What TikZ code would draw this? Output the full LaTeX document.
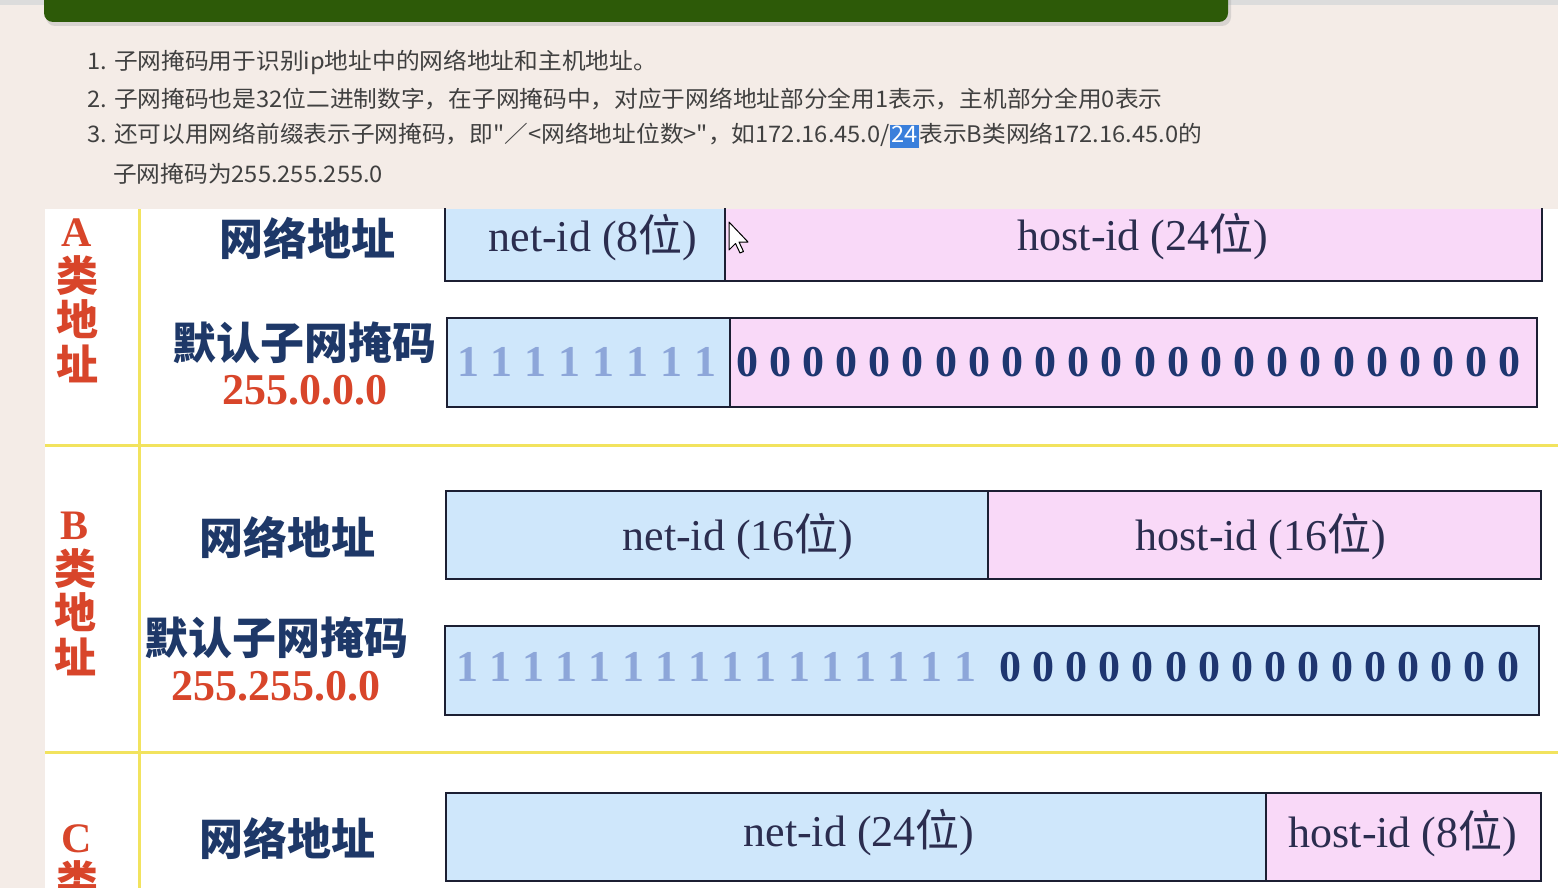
\documentclass[tikz,border=0pt]{standalone}
\usepackage{fontspec}
\setmainfont{Liberation Serif}
\newfontfamily\cjk{Noto Sans CJK SC}
\newfontfamily\listcjk{Noto Sans CJK SC}[FakeStretch=1.04]
\newcommand\wei{{\cjk 位}}
\definecolor{pagebg}{HTML}{F4ECE7}
\definecolor{barg}{HTML}{2D5A08}
\definecolor{topstrip}{HTML}{DCDCDC}
\definecolor{listtxt}{HTML}{404040}
\definecolor{hl}{HTML}{3A7FDB}
\definecolor{ylw}{HTML}{F2E35E}
\definecolor{boxblue}{HTML}{CFE7FB}
\definecolor{boxpink}{HTML}{F9D9F8}
\definecolor{boxline}{HTML}{1C1F33}
\definecolor{navy}{HTML}{1E3868}
\definecolor{redlbl}{HTML}{D8452A}
\definecolor{ones}{HTML}{8DA6D9}
\definecolor{zeros}{HTML}{1E3670}
\definecolor{boxtxt}{HTML}{2B2D4F}
\tikzset{
  listline/.style={anchor=west, inner sep=0pt, text=listtxt, font=\listcjk\fontsize{22.8}{27}\selectfont},
  cell/.style={anchor=north west, inner sep=0pt, draw=boxline, line width=2pt},
  blue/.style={cell, fill=boxblue},
  pink/.style={cell, fill=boxpink},
  boxlabel/.style={inner sep=0pt, text=boxtxt, font=\fontsize{44}{48}\selectfont},
  rowhead/.style={inner sep=0pt, text=navy, font=\cjk\bfseries\fontsize{44}{48}\selectfont},
  maskval/.style={inner sep=0pt, text=redlbl, font=\bfseries\fontsize{44}{48}\selectfont},
  classlbl/.style={inner sep=0pt, text=redlbl, align=center, font=\bfseries\fontsize{42}{44.5}\selectfont},
  onedig/.style={inner sep=0pt, text=ones, font=\bfseries\fontsize{44}{48}\selectfont},
  zerodig/.style={inner sep=0pt, text=zeros, font=\bfseries\fontsize{44}{48}\selectfont},
  ysep/.style={draw=ylw, line width=3pt}
}
\begin{document}
\begin{tikzpicture}[x=1pt,y=-1pt]
\useasboundingbox (0,0) rectangle (1558,888);
\fill[pagebg] (0,0) rectangle (1558,888);
% top strip and green bar
\fill[topstrip] (0,0) rectangle (1558,5);
\fill[black!35,opacity=0.35,rounded corners=9pt] (46,-10) rectangle (1231,26);
\fill[barg,rounded corners=9pt] (44,-10) rectangle (1228,22);
% list text
\node[listline] (l1) at (87,62) {1. 子网掩码用于识别ip地址中的网络地址和主机地址。};
\node[listline] (l2) at (87,99) {2. 子网掩码也是32位二进制数字，在子网掩码中，对应于网络地址部分全用1表示，主机部分全用0表示};
\node[listline] (l3) at (87,136) {3. 还可以用网络前缀表示子网掩码，即"／<网络地址位数>"，如172.16.45.0/{\setlength\fboxsep{1.5pt}\colorbox{hl}{\color{white}\rule[-4pt]{0pt}{20pt}24}}表示B类网络172.16.45.0的};
\node[listline] (l4) at (113,174) {子网掩码为255.255.255.0};
% white panel
\fill[white] (45,209) rectangle (1558,888);
\draw[ysep] (139,209) -- (139,888);
\draw[ysep] (45,445) -- (1558,445);
\draw[ysep] (45,752) -- (1558,752);
% class labels
\node[classlbl, anchor=north] (clsA) at (77,219) {A\\{\cjk 类}\\{\cjk 地}\\{\cjk 址}};
\node[classlbl, anchor=north] (clsB) at (75,512) {B\\{\cjk 类}\\{\cjk 地}\\{\cjk 址}};
\node[classlbl, anchor=north] (clsC) at (77,824) {C\\{\cjk 类}};
% row headings
\node[rowhead] (aNet) at (307,238) {网络地址};
\node[rowhead] (aMask) at (304,343) {默认子网掩码};
\node[maskval] (aMaskV) at (305,390) {255.0.0.0};
\node[rowhead] (bNet) at (287,537) {网络地址};
\node[rowhead] (bMask) at (276,638) {默认子网掩码};
\node[maskval] (bMaskV) at (276,686) {255.255.0.0};
\node[rowhead] (cNet) at (287,838) {网络地址};
% class A boxes
\node[cell, draw=none, fill=boxblue, minimum width=278pt, minimum height=71pt] (anet) at (445,208) {};
\node[cell, draw=none, fill=boxpink, minimum width=817pt, minimum height=71pt] (ahost) at (723,208) {};
\draw[boxline, line width=2pt] (anet.north west) -- (anet.south west) -- (ahost.south east) -- (ahost.north east);
\draw[boxline, line width=2pt] (anet.north east) -- (anet.south east);
\node[boxlabel] (anetT) at (593,238) {net-id (8\wei)};
\node[boxlabel] (ahostT) at (1143,237) {host-id (24\wei)};
\node[blue, minimum width=283pt, minimum height=89pt] (amn) at (446,317) {};
\node[pink, minimum width=807pt, minimum height=89pt] (amh) at (729,317) {};
\foreach \i in {0,...,7} \node[onedig] (a1\i) at (468+\i*33.86,362) {1};
\foreach \i in {0,...,23} \node[zerodig] (a0\i) at (747+\i*33.17,362) {0};
% class B boxes
\node[blue, minimum width=542pt, minimum height=88pt] (bnet) at (445,490) {};
\node[pink, minimum width=553pt, minimum height=88pt] (bhost) at (987,490) {};
\node[boxlabel] (bnetT) at (738,537) {net-id (16\wei)};
\node[boxlabel] (bhostT) at (1261,537) {host-id (16\wei)};
\node[blue, minimum width=1094pt, minimum height=89pt] (bm) at (444,625) {};
\foreach \i in {0,...,15} \node[onedig] (b1\i) at (467+\i*33.2,667) {1};
\foreach \i in {0,...,15} \node[zerodig] (b0\i) at (1010+\i*33.2,667) {0};
% class C boxes
\node[blue, minimum width=820pt, minimum height=88pt] (cnet) at (445,792) {};
\node[pink, minimum width=275pt, minimum height=88pt] (chost) at (1265,792) {};
\node[boxlabel] (cnetT) at (859,833) {net-id (24\wei)};
\node[boxlabel] (chostT) at (1403,834) {host-id (8\wei)};
% mouse pointer
\draw[fill=white, draw=black, line width=1pt, line join=round]
  (729,222) -- (729,250) -- (735.5,243.5) -- (740,253) -- (743.5,251.5) -- (739,242) -- (748,242) -- cycle;
\end{tikzpicture}
\end{document}
